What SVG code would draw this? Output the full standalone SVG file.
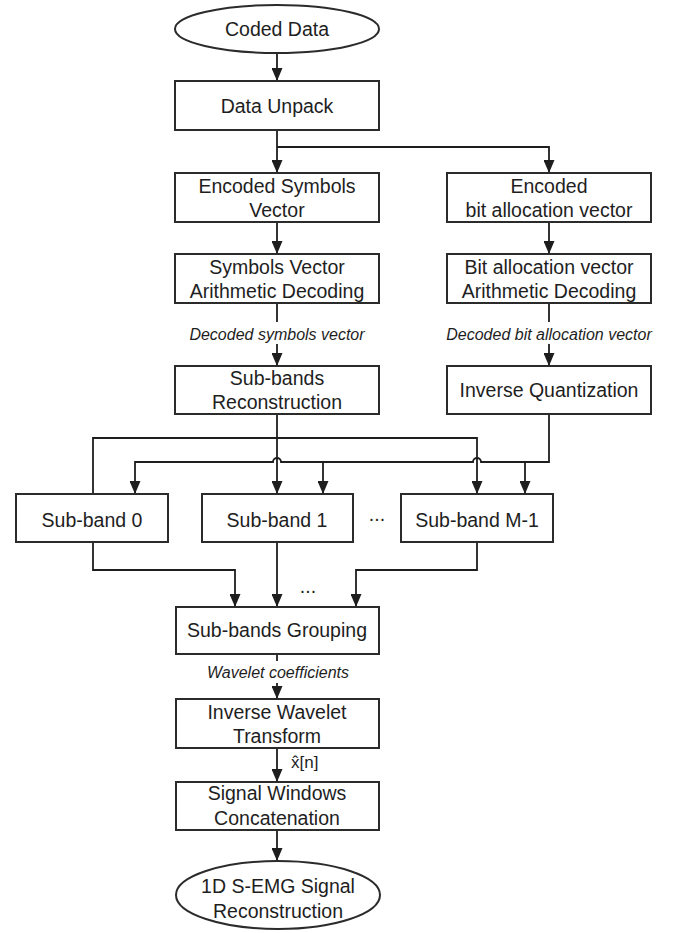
<svg xmlns="http://www.w3.org/2000/svg" width="679" height="933" viewBox="0 0 679 933">
  <style>
    .box { fill: #ffffff; stroke: #2b2b2b; stroke-width: 2; }
    .lbl { font-family: "Liberation Sans", Arial, sans-serif; font-size: 19.5px; fill: #1e1e1e; text-anchor: middle; }
    .note { font-family: "Liberation Sans", Arial, sans-serif; font-size: 16px; font-style: italic; fill: #1e1e1e; text-anchor: middle; }
    .wire { fill: none; stroke: #1e1e1e; stroke-width: 1.8; }
    .arr { marker-end: url(#head); }
  </style>
  <defs>
    <!-- filled triangular arrowhead; tip sits on the path end -->
    <marker id="head" markerUnits="userSpaceOnUse" markerWidth="13" markerHeight="11" refX="13" refY="5.5" orient="auto" viewBox="0 0 13 11">
      <path d="M0,0 L13,5.5 L0,11 Z" fill="#1e1e1e"/>
    </marker>
  </defs>
  <rect width="679" height="933" fill="#ffffff"/>

  <!-- connectors -->
  <g id="connectors">
    <path class="wire arr" d="M277,53 V81"/>
    <path class="wire arr" d="M277,130 V173"/>
    <path class="wire arr" d="M277,147 H549 V173"/>
    <path class="wire arr" d="M277,222 V254"/>
    <path class="wire arr" d="M549,222 V254"/>
    <path class="wire" d="M277,303 V322"/>
    <path class="wire arr" d="M277,344 V366"/>
    <path class="wire" d="M549,303 V322"/>
    <path class="wire arr" d="M549,344 V366"/>
    <!-- sub-band reconstruction fan-out -->
    <path class="wire arr" d="M277,414 V494"/>
    <path class="wire arr" d="M93,494 V438 H477 V494"/>
    <!-- inverse quantization fan-out, hopping over the crossing wires -->
    <path class="wire arr" d="M549,414 V462 H481 A4,4 0 0 0 473,462 H281 A4,4 0 0 0 273,462 H135 V494"/>
    <path class="wire arr" d="M323,462 V494"/>
    <path class="wire arr" d="M525,462 V494"/>
    <!-- sub-bands into grouping -->
    <path class="wire arr" d="M93,542 V570 H235 V607"/>
    <path class="wire arr" d="M277,542 V607"/>
    <path class="wire arr" d="M477,542 V570 H356 V607"/>
    <path class="wire" d="M277,654 V661"/>
    <path class="wire arr" d="M277,683 V699"/>
    <path class="wire arr" d="M277,748 V782"/>
    <path class="wire arr" d="M277,830 V861"/>
    <text class="note" x="277" y="340">Decoded symbols vector</text>
    <text class="note" x="549" y="340">Decoded bit allocation vector</text>
    <text class="note" x="278" y="678">Wavelet coefficients</text>
    <text class="lbl" x="291" y="768" style="text-anchor:start;font-size:17px">x̂[n]</text>
    <text class="lbl" x="377" y="521">...</text>
    <text class="lbl" x="308" y="593">...</text>
  </g>

  <g id="coded-data">
    <ellipse class="box" cx="277" cy="29" rx="102" ry="24"/>
    <text class="lbl" x="277" y="36">Coded Data</text>
  </g>
  <g id="data-unpack">
    <rect class="box" x="175" y="81" width="204" height="49"/>
    <text class="lbl" x="277" y="113">Data Unpack</text>
  </g>
  <g id="encoded-symbols">
    <rect class="box" x="175" y="173" width="204" height="49"/>
    <text class="lbl" x="277" y="193">Encoded Symbols</text>
    <text class="lbl" x="277" y="217">Vector</text>
  </g>
  <g id="encoded-bit-allocation">
    <rect class="box" x="447" y="173" width="204" height="49"/>
    <text class="lbl" x="549" y="193">Encoded</text>
    <text class="lbl" x="549" y="217">bit allocation vector</text>
  </g>
  <g id="symbols-decoding">
    <rect class="box" x="175" y="254" width="204" height="49"/>
    <text class="lbl" x="277" y="274">Symbols Vector</text>
    <text class="lbl" x="277" y="298">Arithmetic Decoding</text>
  </g>
  <g id="bit-allocation-decoding">
    <rect class="box" x="447" y="254" width="204" height="49"/>
    <text class="lbl" x="549" y="274">Bit allocation vector</text>
    <text class="lbl" x="549" y="298">Arithmetic Decoding</text>
  </g>
  <g id="subbands-reconstruction">
    <rect class="box" x="175" y="366" width="204" height="48"/>
    <text class="lbl" x="277" y="385">Sub-bands</text>
    <text class="lbl" x="277" y="409">Reconstruction</text>
  </g>
  <g id="inverse-quantization">
    <rect class="box" x="447" y="366" width="204" height="48"/>
    <text class="lbl" x="549" y="397">Inverse Quantization</text>
  </g>
  <g id="subband-0">
    <rect class="box" x="16" y="494" width="152" height="48"/>
    <text class="lbl" x="92" y="527">Sub-band 0</text>
  </g>
  <g id="subband-1">
    <rect class="box" x="202" y="494" width="151" height="48"/>
    <text class="lbl" x="277" y="527">Sub-band 1</text>
  </g>
  <g id="subband-m-1">
    <rect class="box" x="401" y="494" width="152" height="48"/>
    <text class="lbl" x="477" y="527">Sub-band M-1</text>
  </g>
  <g id="subbands-grouping">
    <rect class="box" x="176" y="607" width="203" height="47"/>
    <text class="lbl" x="277" y="637">Sub-bands Grouping</text>
  </g>
  <g id="inverse-wavelet">
    <rect class="box" x="176" y="699" width="203" height="49"/>
    <text class="lbl" x="277" y="719">Inverse Wavelet</text>
    <text class="lbl" x="277" y="743">Transform</text>
  </g>
  <g id="window-concatenation">
    <rect class="box" x="176" y="782" width="203" height="48"/>
    <text class="lbl" x="277" y="800">Signal Windows</text>
    <text class="lbl" x="277" y="825">Concatenation</text>
  </g>
  <g id="signal-reconstruction">
    <ellipse class="box" cx="278" cy="895" rx="102" ry="34"/>
    <text class="lbl" x="278" y="893">1D S-EMG Signal</text>
    <text class="lbl" x="278" y="918">Reconstruction</text>
  </g>
</svg>
